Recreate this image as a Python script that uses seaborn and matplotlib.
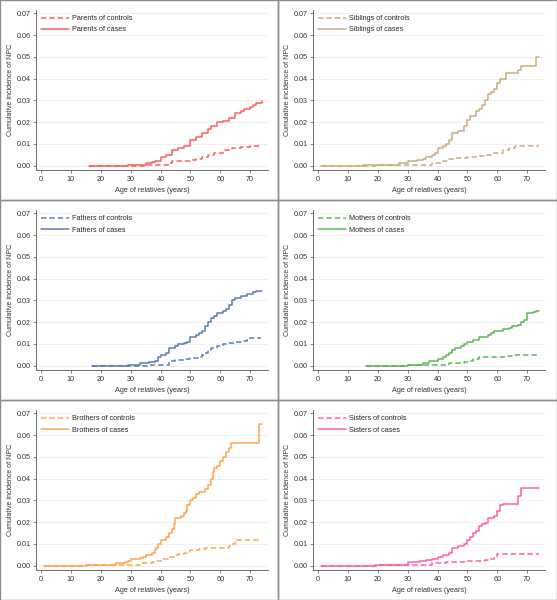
import matplotlib
matplotlib.use("Agg")
import matplotlib.pyplot as plt
import seaborn as sns
from matplotlib.patches import Rectangle

sns.set_style("white")
plt.rcParams['font.family'] = ['Liberation Sans', 'DejaVu Sans']

# -------- data (step points: age where the curve jumps, value after the jump) --------
parents_ctrl_age = [16, 35, 38, 43, 44, 50, 52, 54, 56, 58, 61, 64, 67, 70, 73.5]
parents_ctrl_val = [0, 0.0003, 0.0005, 0.001, 0.002, 0.0025, 0.003, 0.004, 0.005, 0.006, 0.007, 0.008, 0.0085, 0.009, 0.009]
parents_case_age = [16, 29, 35, 37, 38, 40, 42, 44, 46, 48, 50, 52, 54, 56, 57, 59, 61, 63, 65, 67, 68, 70, 71, 72, 74]
parents_case_val = [0, 0.0005, 0.001, 0.0015, 0.002, 0.004, 0.005, 0.007, 0.008, 0.009, 0.012, 0.013, 0.015, 0.017, 0.018,
                    0.020, 0.0205, 0.022, 0.024, 0.025, 0.026, 0.027, 0.028, 0.029, 0.0297]

siblings_ctrl_age = [1, 20, 30, 38, 42, 44, 46, 50, 53, 56, 59, 62, 64, 66, 74]
siblings_ctrl_val = [0, 0.0002, 0.0005, 0.001, 0.002, 0.003, 0.0035, 0.004, 0.0045, 0.005, 0.006, 0.007, 0.008, 0.0088, 0.0088]
siblings_case_age = [1, 15, 22, 27, 30, 33, 35, 36, 38, 39, 40, 42, 43, 44, 45, 47, 49, 50, 51, 53, 54, 55, 56, 57, 58, 59,
                     60, 61, 63, 67, 68, 73, 74]
siblings_case_val = [0, 0.0002, 0.0005, 0.001, 0.002, 0.0025, 0.003, 0.004, 0.005, 0.006, 0.008, 0.009, 0.010, 0.012, 0.015,
                     0.016, 0.018, 0.021, 0.023, 0.025, 0.026, 0.028, 0.030, 0.033, 0.034, 0.035, 0.038, 0.040, 0.0425,
                     0.044, 0.046, 0.050, 0.050]

fathers_ctrl_age = [17, 36, 43, 45, 48, 50, 53, 54, 55, 56, 57, 59, 61, 63, 65, 67, 69, 70, 72, 73.5]
fathers_ctrl_val = [0, 0.0005, 0.002, 0.0025, 0.003, 0.0035, 0.004, 0.005, 0.006, 0.007, 0.008, 0.009, 0.010, 0.0105, 0.011,
                    0.0115, 0.012, 0.0125, 0.0128, 0.0128]
fathers_case_age = [17, 29, 33, 36, 38, 39, 40, 42, 43, 45, 46, 48, 49, 50, 52, 53, 54, 55, 56, 57, 58, 59, 61, 62, 63, 64,
                    65, 67, 69, 71, 72, 74]
fathers_case_val = [0, 0.0005, 0.001, 0.0015, 0.002, 0.004, 0.005, 0.006, 0.008, 0.009, 0.010, 0.0105, 0.011, 0.013, 0.014,
                    0.015, 0.016, 0.018, 0.020, 0.022, 0.023, 0.024, 0.025, 0.026, 0.028, 0.030, 0.031, 0.032, 0.033,
                    0.034, 0.0342, 0.0342]

mothers_ctrl_age = [16, 30, 35, 44, 49, 51, 52, 54, 63, 65, 74]
mothers_ctrl_val = [0, 0.0002, 0.0005, 0.001, 0.0015, 0.002, 0.003, 0.004, 0.0045, 0.005, 0.005]
mothers_case_age = [16, 30, 33, 35, 37, 40, 42, 43, 44, 45, 46, 48, 49, 50, 52, 54, 57, 58, 59, 62, 64, 65, 67, 68, 69, 70,
                    72, 73, 74]
mothers_case_val = [0, 0.0003, 0.0005, 0.001, 0.002, 0.003, 0.004, 0.005, 0.006, 0.007, 0.008, 0.009, 0.010, 0.011, 0.012,
                    0.013, 0.014, 0.015, 0.016, 0.017, 0.0175, 0.018, 0.0185, 0.020, 0.021, 0.024, 0.0245, 0.025, 0.025]

brothers_ctrl_age = [1, 15, 29, 33, 37, 38, 40, 43, 45, 46, 48, 50, 53, 55, 63, 64, 65, 74]
brothers_ctrl_val = [0, 0.0002, 0.0005, 0.001, 0.0015, 0.002, 0.003, 0.004, 0.005, 0.0055, 0.006, 0.007, 0.0075, 0.008,
                     0.009, 0.010, 0.012, 0.012]
brothers_case_age = [1, 15, 22, 25, 28, 29, 30, 33, 34, 35, 37, 38, 38.5, 39, 40, 42, 43, 44, 44.5, 45, 47, 48, 48.5, 49,
                     50, 51, 52, 53, 55, 56, 57, 57.5, 58, 59, 60, 61, 62, 63, 63.5, 73, 74]
brothers_case_val = [0, 0.0002, 0.0005, 0.001, 0.0015, 0.002, 0.003, 0.0035, 0.004, 0.005, 0.006, 0.007, 0.008, 0.010,
                     0.012, 0.013, 0.015, 0.017, 0.019, 0.022, 0.023, 0.024, 0.025, 0.028, 0.030, 0.031, 0.033, 0.034,
                     0.035, 0.037, 0.040, 0.043, 0.045, 0.046, 0.048, 0.050, 0.052, 0.054, 0.0565, 0.065, 0.065]

sisters_ctrl_age = [1, 20, 30, 38, 43, 50, 56, 58, 59, 60, 74]
sisters_ctrl_val = [0, 0.0002, 0.0005, 0.001, 0.0015, 0.002, 0.0025, 0.003, 0.004, 0.0055, 0.0055]
sisters_case_age = [1, 19, 27, 30, 34, 36, 38, 40, 42, 44, 45, 47, 49, 50, 51, 52, 53, 54, 55, 56, 57, 59, 60, 61, 62, 67,
                    68, 74]
sisters_case_val = [0, 0.0002, 0.0005, 0.0015, 0.002, 0.0025, 0.003, 0.004, 0.005, 0.006, 0.008, 0.009, 0.010, 0.012,
                    0.013, 0.015, 0.016, 0.018, 0.019, 0.0195, 0.022, 0.023, 0.025, 0.028, 0.0285, 0.032, 0.0355, 0.0355]

panels = [
    ("Parents", "#f8605f", parents_ctrl_age, parents_ctrl_val, parents_case_age, parents_case_val),
    ("Siblings", "#c9ad7c", siblings_ctrl_age, siblings_ctrl_val, siblings_case_age, siblings_case_val),
    ("Fathers", "#5a7fab", fathers_ctrl_age, fathers_ctrl_val, fathers_case_age, fathers_case_val),
    ("Mothers", "#5cb85c", mothers_ctrl_age, mothers_ctrl_val, mothers_case_age, mothers_case_val),
    ("Brothers", "#ffa54f", brothers_ctrl_age, brothers_ctrl_val, brothers_case_age, brothers_case_val),
    ("Sisters", "#ff5fa8", sisters_ctrl_age, sisters_ctrl_val, sisters_case_age, sisters_case_val),
]

W, H = 557, 600
fig = plt.figure(figsize=(W / 100, H / 100), dpi=100)

for i, (name, color, ca, cv, sa, sv) in enumerate(panels):
    row, col = divmod(i, 2)
    x0 = 0 if col == 0 else 278
    y0 = row * 200
    # panel frame
    fig.add_artist(Rectangle((x0 / W, 1 - (y0 + 200) / H), (279 if col else 278) / W, 200 / H,
                             transform=fig.transFigure, fill=False, edgecolor="#8c8c8c", lw=1.0))
    left = 36 if col == 0 else 313
    ax = fig.add_axes([left / W, 1 - (y0 + 170) / H, 232 / W, 160 / H])

    sns.lineplot(x=ca, y=cv, ax=ax, color=color, lw=1.1, drawstyle="steps-post",
                 linestyle=(0, (3.5, 2)), label=f"{name} of controls", sort=False)
    sns.lineplot(x=sa, y=sv, ax=ax, color=color, lw=1.1, drawstyle="steps-post",
                 label=f"{name} of cases", sort=False)

    ax.set_xlim(-1.7, 76)
    ax.set_ylim(-0.002, 0.0715)
    ax.set_xticks(range(0, 71, 10))
    ax.set_yticks([0, 0.01, 0.02, 0.03, 0.04, 0.05, 0.06, 0.07])
    ax.set_yticklabels([f"{v:.2f}" for v in ax.get_yticks()])
    ax.yaxis.grid(True, color="#ececec", lw=0.6)
    ax.set_axisbelow(True)
    for s in ["top", "right"]:
        ax.spines[s].set_visible(False)
    for s in ["left", "bottom"]:
        ax.spines[s].set_color("#555555")
        ax.spines[s].set_linewidth(0.6)
    ax.tick_params(axis="both", labelsize=5.2, length=2.5, width=0.5, color="#555555", pad=1.5,
                   bottom=True, left=True, labelcolor="#333333")
    ax.set_xlabel("Age of relatives (years)", fontsize=5.2, labelpad=3, color="#333333")
    ax.set_ylabel("Cumulative incidence of NPC", fontsize=5.0, labelpad=1.5, color="#333333")
    ax.legend(loc="upper left", frameon=False, fontsize=5.2, handlelength=3.9, borderaxespad=0.3,
              labelspacing=0.6, handletextpad=0.4, bbox_to_anchor=(0.0, 1.0))

fig.savefig("out.png", dpi=100)
